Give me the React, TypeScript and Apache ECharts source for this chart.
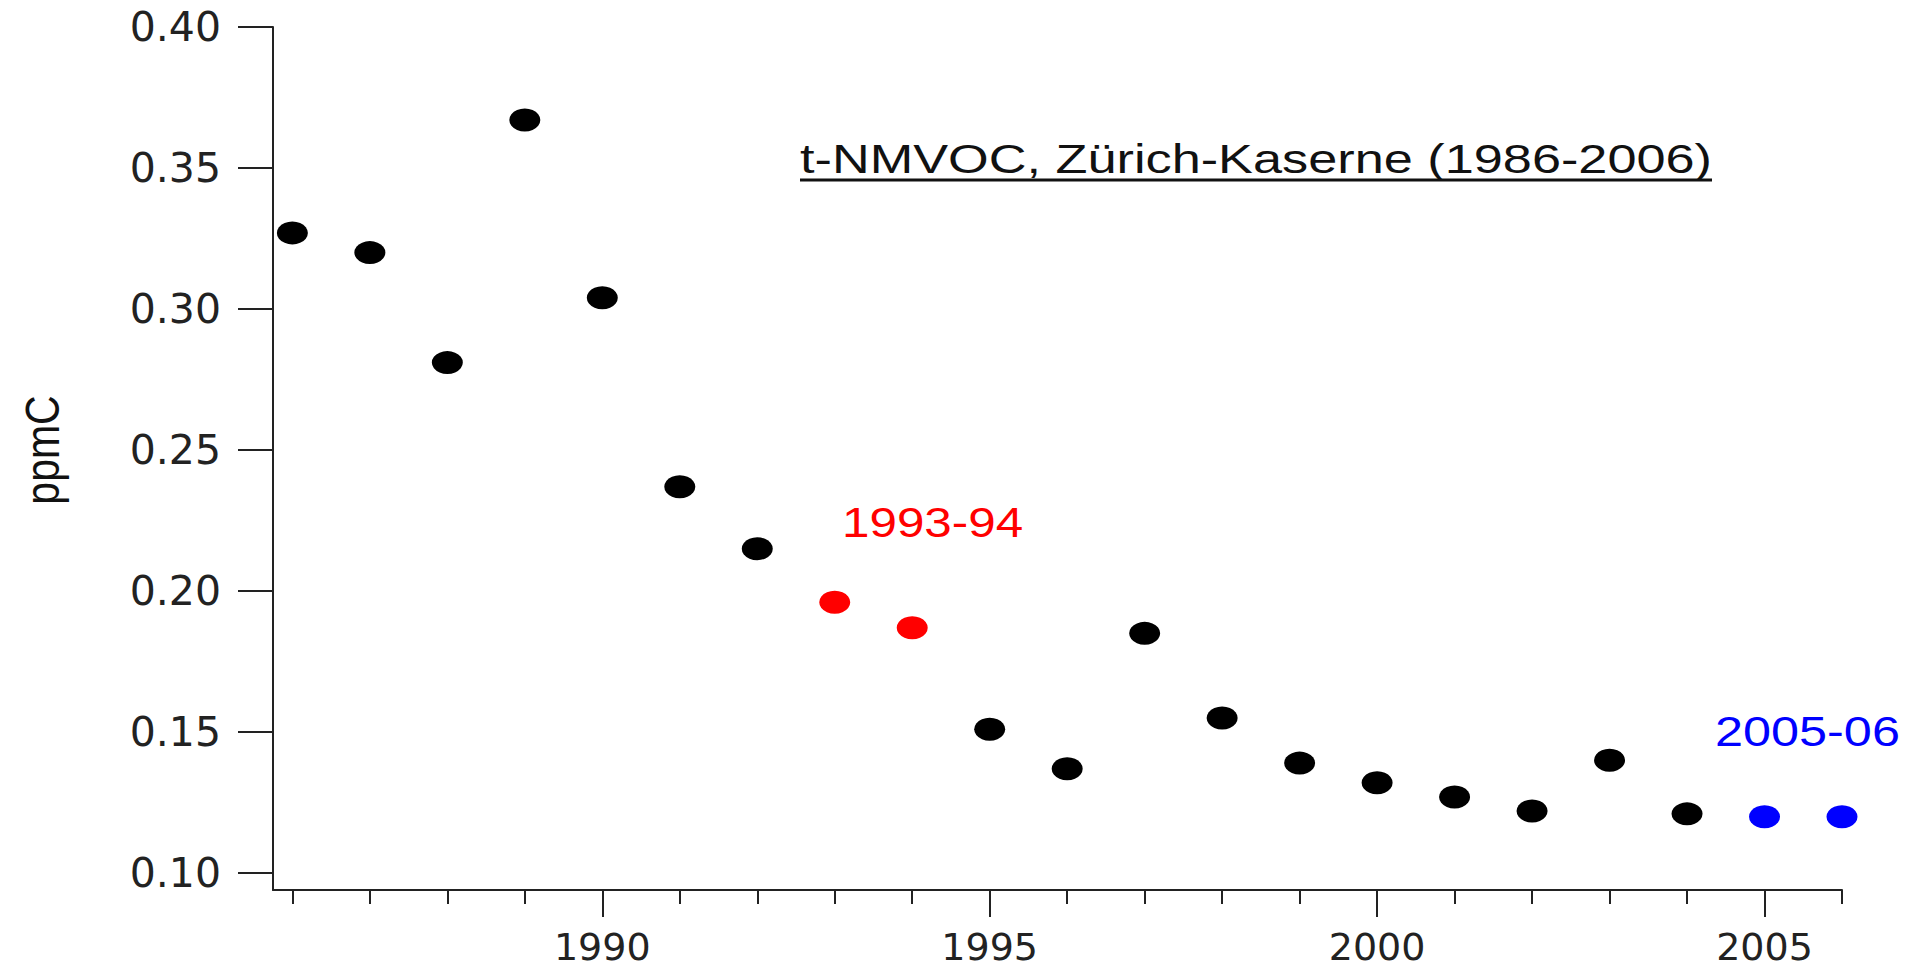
import React, { useEffect, useRef } from "react";
import * as echarts from "echarts";

const years = [1986, 1987, 1988, 1989, 1990, 1991, 1992, 1993, 1994, 1995, 1996, 1997, 1998, 1999, 2000, 2001, 2002, 2003, 2004, 2005, 2006];
const tNmvoc = [0.327, 0.320, 0.281, 0.367, 0.304, 0.237, 0.215, 0.196, 0.187, 0.151, 0.137, 0.185, 0.155, 0.139, 0.132, 0.127, 0.122, 0.140, 0.121, 0.120, 0.120];
const redYears = [1993, 1994];
const blueYears = [2005, 2006];
const yTickValues = [0.1, 0.15, 0.2, 0.25, 0.3, 0.35, 0.4];
const xMajorTicks = [1990, 1995, 2000, 2005];
const xMinorTicks = years;

const titleText = "t-NMVOC, Zürich-Kaserne (1986-2006)";
const redLabel = "1993-94";
const blueLabel = "2005-06";
const yName = "ppmC";

const AXIS = "#222";
const LABEL_FONT = "DejaVu Sans";
const ANNO_FONT = "Liberation Sans";

export default function App() {
  const ref = useRef<HTMLDivElement>(null);
  useEffect(() => {
    if (!ref.current) return;
    const chart = echarts.init(ref.current, null, { renderer: "svg" });
    const pts = years.map((y, i) => [y, tNmvoc[i]]);
    const black = pts.filter((p) => !redYears.includes(p[0]) && !blueYears.includes(p[0]));
    const red = pts.filter((p) => redYears.includes(p[0]));
    const blue = pts.filter((p) => blueYears.includes(p[0]));

    const dot = (data: number[][], color: string) => ({
      type: "scatter",
      data,
      symbol: "circle",
      symbolSize: [31, 23],
      itemStyle: { color, opacity: 1 },
      emphasis: { disabled: true },
    });

    chart.setOption({
      animation: false,
      backgroundColor: "#fff",
      grid: { left: 273, right: 80, top: 27, bottom: 81, containLabel: false },
      xAxis: [
        {
          type: "value",
          min: 1985.75,
          max: 2006,
          position: "bottom",
          axisLine: { show: true, onZero: false, lineStyle: { color: AXIS, width: 2 } },
          axisTick: { show: true, customValues: xMajorTicks, length: 27, lineStyle: { color: AXIS, width: 2 } },
          axisLabel: {
            show: true,
            customValues: xMajorTicks,
            margin: 40,
            fontFamily: LABEL_FONT,
            fontSize: 38,
            lineHeight: 34,
            color: AXIS,
            formatter: (v: number) => String(v),
          },
          splitLine: { show: false },
        },
        {
          type: "value",
          min: 1985.75,
          max: 2006,
          position: "bottom",
          offset: 0,
          axisLine: { show: false, onZero: false },
          axisTick: { show: true, customValues: xMinorTicks, length: 14, lineStyle: { color: AXIS, width: 2 } },
          axisLabel: { show: false },
          splitLine: { show: false },
        },
      ],
      yAxis: {
        type: "value",
        min: 0.094,
        max: 0.4,
        axisLine: { show: true, onZero: false, lineStyle: { color: AXIS, width: 2 } },
        axisTick: { show: true, customValues: yTickValues, length: 35, lineStyle: { color: AXIS, width: 2 } },
        axisLabel: {
          show: true,
          customValues: yTickValues,
          margin: 52,
          fontFamily: LABEL_FONT,
          fontSize: 41,
          color: AXIS,
          formatter: (v: number) => v.toFixed(2),
        },
        splitLine: { show: false },
      },
      series: [dot(black, "#000000"), dot(red, "#ff0000"), dot(blue, "#0000ff")],
      graphic: [
        {
          type: "text",
          x: 800,
          y: 159,
          scaleX: 1.307,
          style: {
            text: titleText,
            fontFamily: ANNO_FONT,
            fontSize: 40,
            fill: "#111",
            align: "left",
            verticalAlign: "middle",
          },
        },
        {
          type: "line",
          shape: { x1: 800, y1: 180, x2: 1712, y2: 180 },
          style: { stroke: "#111", lineWidth: 3 },
        },
        {
          type: "text",
          x: 842,
          y: 523,
          scaleX: 1.175,
          style: {
            text: redLabel,
            fontFamily: ANNO_FONT,
            fontSize: 42,
            fill: "#ff0000",
            align: "left",
            verticalAlign: "middle",
          },
        },
        {
          type: "text",
          x: 1715,
          y: 732,
          scaleX: 1.2,
          style: {
            text: blueLabel,
            fontFamily: ANNO_FONT,
            fontSize: 42,
            fill: "#0000ff",
            align: "left",
            verticalAlign: "middle",
          },
        },
        {
          type: "text",
          x: 42,
          y: 450,
          rotation: Math.PI / 2,
          scaleY: 1.15,
          style: {
            text: yName,
            fontFamily: ANNO_FONT,
            fontSize: 41,
            fill: "#111",
            align: "center",
            verticalAlign: "middle",
          },
        },
      ],
    });
    return () => chart.dispose();
  }, []);

  return (
    <div
      ref={ref}
      style={{ position: "fixed", left: 0, top: 0, width: 1922, height: 971, background: "#fff" }}
    />
  );
}
